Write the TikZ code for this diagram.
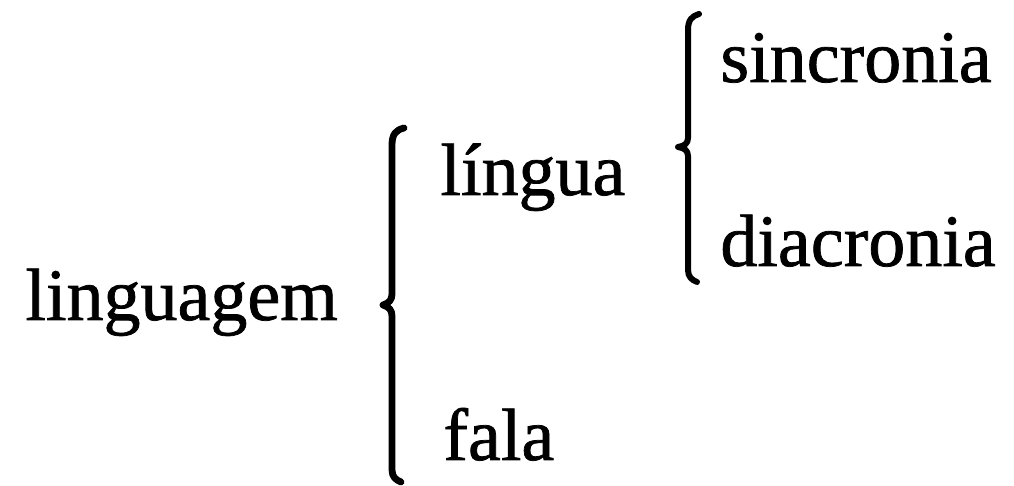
\documentclass[tikz,border=0pt]{standalone}
\usepackage{fontspec}
\setmainfont{Liberation Serif}
\newfontfamily\heavyserif[FakeBold=1.0]{Liberation Serif}
\begin{document}
\begin{tikzpicture}[x=0.5pt,y=-0.5pt,
  word/.style={anchor=base west,inner sep=0pt,font=\heavyserif\fontsize{37}{40}\selectfont},
  bracepath/.style={line width=3.4pt,line cap=round,line join=round}]
\useasboundingbox (0,0) rectangle (1014,486);
\node[word] (lgm) at (25,320) {linguagem};
\node[word] (lng) at (440,195) {língua};
\node[word] (fal) at (443,460) {fala};
\node[word] (sin) at (720,82) {sincronia};
\node[word] (dia) at (720,266) {diacronia};
% big brace
\draw[bracepath] (404,128) .. controls (396,130) and (392,134) .. (392,145)
  -- (392,294) .. controls (392,300) and (389,303) .. (383,305)
  .. controls (389,307) and (392,310) .. (392,316)
  -- (392,470) .. controls (392,477) and (396,480) .. (401,482);
% small brace
\draw[bracepath,line width=3pt] (699,14) .. controls (692,16) and (688,20) .. (688,30)
  -- (688,138) .. controls (688,143) and (685,146) .. (678,147)
  .. controls (685,148) and (688,151) .. (688,156)
  -- (688,270) .. controls (688,277) and (692,280) .. (697,282);
\end{tikzpicture}
\end{document}
